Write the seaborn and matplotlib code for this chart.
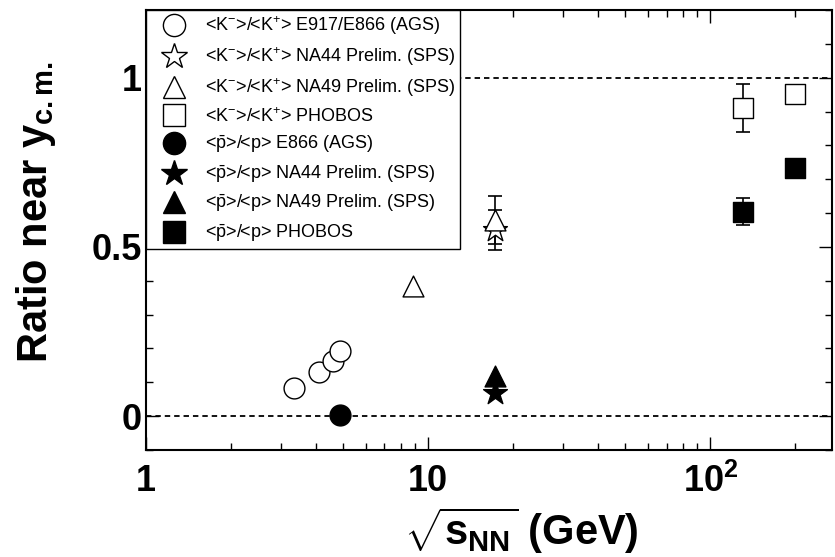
import matplotlib
matplotlib.use("Agg")
import matplotlib.pyplot as plt
import seaborn as sns

import numpy as np
import pandas as pd
from matplotlib.lines import Line2D
from matplotlib.ticker import MultipleLocator, LogLocator, NullFormatter

sns.set_theme(style="ticks", rc={"axes.edgecolor": "black",
                                 "xtick.color": "black",
                                 "ytick.color": "black",
                                 "text.color": "black",
                                 "axes.labelcolor": "black"})
plt.rcParams["font.family"] = ["Liberation Sans", "DejaVu Sans"]
plt.rcParams["mathtext.fontset"] = "custom"
plt.rcParams["mathtext.rm"] = "Liberation Sans"
plt.rcParams["mathtext.it"] = "Liberation Sans:italic"
plt.rcParams["mathtext.bf"] = "Liberation Sans:bold"

# <K->/<K+>
KK_AGS_X    = [3.35, 4.1, 4.6, 4.87]
KK_AGS_Y    = [0.083, 0.130, 0.163, 0.192]
KK_NA44_X   = [17.3]
KK_NA44_Y   = [0.55]
KK_NA44_ERR = [0.06]
KK_NA49_X   = [8.8, 17.3]
KK_NA49_Y   = [0.385, 0.58]
KK_NA49_ERR = [0.0, 0.07]
KK_PHO_X    = [130, 200]
KK_PHO_Y    = [0.91, 0.953]
KK_PHO_ERR  = [0.07, 0.026]

# <pbar>/<p>
PP_E866_X   = [4.87]
PP_E866_Y   = [0.003]
PP_NA44_X   = [17.3]
PP_NA44_Y   = [0.068]
PP_NA49_X   = [17.3]
PP_NA49_Y   = [0.118]
PP_PHO_X    = [130, 200]
PP_PHO_Y    = [0.604, 0.734]
PP_PHO_ERR  = [0.04, 0.0]

KK = r"<K$^{-}$>/<K$^{+}$>"
PP = r"<$\bar{\rm p}$>/<p>"
LABELS = [KK + " E917/E866 (AGS)", KK + " NA44 Prelim. (SPS)",
          KK + " NA49 Prelim. (SPS)", KK + " PHOBOS",
          PP + " E866 (AGS)", PP + " NA44 Prelim. (SPS)",
          PP + " NA49 Prelim. (SPS)", PP + " PHOBOS"]

series = [
    (KK_AGS_X,  KK_AGS_Y,  None,        "o", False, 15),
    (KK_NA44_X, KK_NA44_Y, KK_NA44_ERR, "*", False, 18),
    (KK_NA49_X, KK_NA49_Y, KK_NA49_ERR, "^", False, 15),
    (KK_PHO_X,  KK_PHO_Y,  KK_PHO_ERR,  "s", False, 15),
    (PP_E866_X, PP_E866_Y, None,        "o", True, 15),
    (PP_NA44_X, PP_NA44_Y, None,        "*", True, 18),
    (PP_NA49_X, PP_NA49_Y, None,        "^", True, 15),
    (PP_PHO_X,  PP_PHO_Y,  PP_PHO_ERR,  "s", True, 15),
]

fig = plt.figure(figsize=(8.35, 5.57), dpi=100)
ax = fig.add_axes([0.1749, 0.1921, 0.8216, 0.7899])

ax.axhline(0, color="black", lw=1.3, ls=(0, (3, 2.2)), zorder=1)
ax.axhline(1, color="black", lw=1.3, ls=(0, (3, 2.2)), zorder=1)

handles = []
for x, y, err, mk, filled, ms in series:
    df = pd.DataFrame({"x": x, "y": y})
    if err is not None:
        e = np.array(err)
        keep = e > 0
        ax.errorbar(np.array(x)[keep], np.array(y)[keep], yerr=e[keep],
                    fmt="none", ecolor="black", elinewidth=1.2,
                    capsize=5, capthick=1.2, zorder=2)
    fc = "black" if filled else "white"
    sns.scatterplot(data=df, x="x", y="y", marker=mk, s=ms ** 2,
                    color=fc, edgecolor="black", linewidth=1.0,
                    ax=ax, zorder=3, legend=False)
    handles.append(Line2D([], [], ls="none", marker=mk,
                          markersize=ms * 16 / 15,
                          markerfacecolor=fc, markeredgecolor="black",
                          markeredgewidth=1.0))

ax.set_xscale("log")
ax.set_xlim(1, 270)
ax.set_ylim(-0.1, 1.2)

ax.set_xticks([1, 10, 100])
ax.set_xticklabels(["1", "10", r"$\mathbf{10^{2}}$"])
ax.xaxis.set_minor_locator(LogLocator(base=10, subs=np.arange(2, 10)))
ax.xaxis.set_minor_formatter(NullFormatter())
ax.set_yticks([0, 0.5, 1])
ax.set_yticklabels(["0", "0.5", "1"])
ax.yaxis.set_minor_locator(MultipleLocator(0.1))

ax.tick_params(which="both", direction="in", top=True, right=True, width=1)
ax.tick_params(which="major", length=9.5, labelsize=26)
ax.tick_params(which="minor", length=5)
ax.tick_params(axis="x", which="major", pad=10)
ax.tick_params(axis="y", which="major", pad=3)
for lab in ax.get_xticklabels() + ax.get_yticklabels():
    lab.set_fontweight("bold")
for sp in ax.spines.values():
    sp.set_linewidth(1.5)
    sp.set_visible(True)

ax.set_xlabel(r"$\sqrt{\mathbf{s}_{\mathbf{NN}}}$ (GeV)",
              fontsize=30, fontweight="bold")
ax.set_ylabel(r"Ratio near y$_{\mathbf{c.m.}}$",
              fontsize=30, fontweight="bold")
ax.xaxis.set_label_coords(0.547, -0.125)
ax.yaxis.set_label_coords(-0.128, 0.54)

leg = ax.legend(handles, LABELS, loc="upper left", bbox_to_anchor=(0, 1),
                borderaxespad=0, fontsize=13, frameon=True, fancybox=False,
                framealpha=1, edgecolor="black", handlelength=2.6,
                handletextpad=0.4, labelspacing=0.45, borderpad=0.25)
leg.get_frame().set_linewidth(1.0)
leg.set_zorder(5)

fig.savefig("out.png", dpi=100)
plt.close("all")
